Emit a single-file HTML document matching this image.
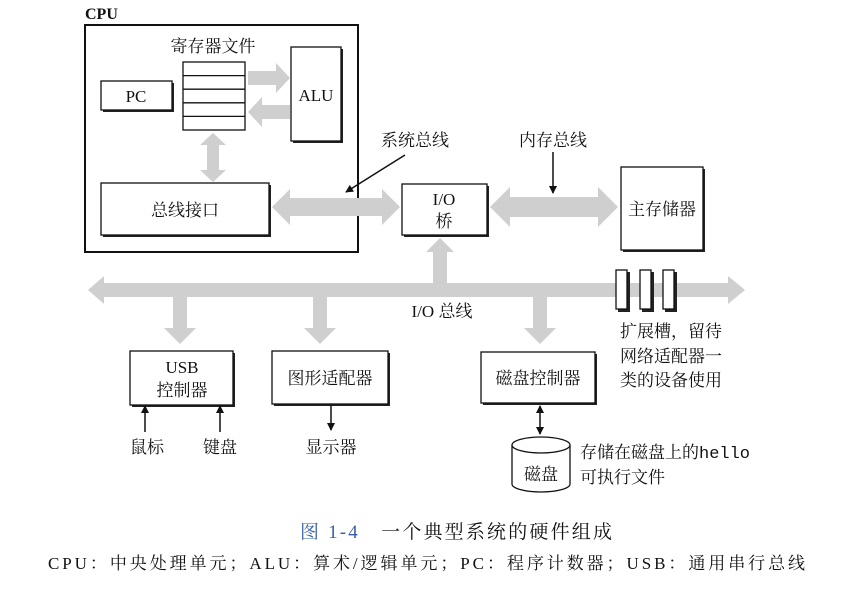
<!DOCTYPE html>
<html><head><meta charset="utf-8"><style>
html,body{margin:0;padding:0;background:#fff}
svg text{font-family:"Liberation Serif","Noto Serif CJK SC","Noto Sans CJK SC",serif;fill:#111}
</style></head><body>
<svg width="850" height="589" viewBox="0 0 850 589" xmlns="http://www.w3.org/2000/svg">
<defs>
<marker id="ah" markerWidth="8" markerHeight="8" refX="7" refY="4" orient="auto" markerUnits="userSpaceOnUse"><path d="M0,0 L8,4 L0,8 z" fill="#111"/></marker>
<marker id="ahs" markerWidth="8" markerHeight="8" refX="1" refY="4" orient="auto" markerUnits="userSpaceOnUse"><path d="M8,0 L0,4 L8,8 z" fill="#111"/></marker>
</defs>
<rect x="85" y="25" width="273" height="227" stroke="#111" stroke-width="2" fill="none"/>
<g fill="#cfcfcf">
<path d="M248,71 L276,71 L276,63 L290,78 L276,93 L276,85 L248,85 z"/>
<path d="M290,105 L262,105 L262,97 L248,112 L262,127 L262,119 L290,119 z"/>
<path d="M213,133 L226,145 L219,145 L219,170 L226,170 L213,182 L200,170 L207,170 L207,145 L200,145 z"/>
<path d="M272,207 L290,189 L290,198 L382,198 L382,189 L400,207 L382,225 L382,216 L290,216 L290,225 z"/>
<path d="M490,207 L510,187 L510,197 L598,197 L598,187 L618,207 L598,227 L598,217 L510,217 L510,227 z"/>
<path d="M88,290 L104,276 L104,283 L728,283 L728,276 L745,290 L728,304 L728,297 L104,297 L104,304 z"/>
<path d="M440,238 L454,252 L447,252 L447,284 L433,284 L433,252 L426,252 z"/>
<path d="M173,296 L187,296 L187,328 L196,328 L180,344 L164,328 L173,328 z"/>
<path d="M313,296 L327,296 L327,328 L336,328 L320,344 L304,328 L313,328 z"/>
<path d="M533,296 L547,296 L547,328 L556,328 L540,344 L524,328 L533,328 z"/>
</g>
<g stroke="#111" fill="#fff" stroke-width="1.3">
<rect x="103" y="83" width="71" height="29" fill="#222" stroke="none"/>
<rect x="101" y="81" width="71" height="29"/>
<rect x="183" y="62" width="62" height="68"/>
<line x1="183" y1="75.6" x2="245" y2="75.6"/><line x1="183" y1="89.2" x2="245" y2="89.2"/><line x1="183" y1="102.8" x2="245" y2="102.8"/><line x1="183" y1="116.4" x2="245" y2="116.4"/>
<rect x="293" y="49" width="50" height="94" fill="#222" stroke="none"/>
<rect x="291" y="47" width="50" height="94"/>
<rect x="103" y="185" width="168" height="52" fill="#222" stroke="none"/>
<rect x="101" y="183" width="168" height="52"/>
<rect x="404" y="186" width="85" height="51" fill="#222" stroke="none"/>
<rect x="402" y="184" width="85" height="51"/>
<rect x="623" y="169" width="82" height="83" fill="#222" stroke="none"/>
<rect x="621" y="167" width="82" height="83"/>
<rect x="618" y="272" width="12" height="40" fill="#222" stroke="none"/><rect x="616" y="270" width="11" height="39"/>
<rect x="642" y="272" width="12" height="40" fill="#222" stroke="none"/><rect x="640" y="270" width="11" height="39"/>
<rect x="665" y="272" width="12" height="40" fill="#222" stroke="none"/><rect x="663" y="270" width="11" height="39"/>
<rect x="132" y="353" width="103" height="54" fill="#222" stroke="none"/>
<rect x="130" y="351" width="103" height="54"/>
<rect x="274" y="353" width="116" height="53" fill="#222" stroke="none"/>
<rect x="272" y="351" width="116" height="53"/>
<rect x="483" y="354" width="114" height="51" fill="#222" stroke="none"/>
<rect x="481" y="352" width="114" height="51"/>
<path d="M512,445 L512,484 A29,8 0 0 0 570,484 L570,445" />
<ellipse cx="541" cy="445" rx="29" ry="8"/>
</g>
<g stroke="#111" stroke-width="1.5" fill="none">
<line x1="405" y1="155" x2="346" y2="192" marker-end="url(#ah)"/>
<line x1="553" y1="152" x2="553" y2="193" marker-end="url(#ah)"/>
<line x1="145" y1="432" x2="145" y2="406" marker-end="url(#ah)"/>
<line x1="220" y1="432" x2="220" y2="406" marker-end="url(#ah)"/>
<line x1="331" y1="405" x2="331" y2="430" marker-end="url(#ah)"/>
<line x1="540" y1="406" x2="540" y2="434" marker-end="url(#ah)" marker-start="url(#ahs)"/>
</g>
<g font-size="17">
<text x="85" y="19" font-size="16" font-weight="bold">CPU</text>
<text x="213" y="52" text-anchor="middle">寄存器文件</text>
<text x="136" y="102" text-anchor="middle">PC</text>
<text x="316" y="101" text-anchor="middle">ALU</text>
<text x="185" y="216" text-anchor="middle">总线接口</text>
<text x="415" y="146" text-anchor="middle">系统总线</text>
<text x="553" y="146" text-anchor="middle">内存总线</text>
<text x="444" y="205" text-anchor="middle">I/O</text>
<text x="444" y="227" text-anchor="middle">桥</text>
<text x="662" y="215" text-anchor="middle">主存储器</text>
<text x="442" y="317" text-anchor="middle">I/O 总线</text>
<text x="620" y="337">扩展槽，留待</text>
<text x="620" y="362">网络适配器一</text>
<text x="620" y="386">类的设备使用</text>
<text x="182" y="373" text-anchor="middle">USB</text>
<text x="182" y="396" text-anchor="middle">控制器</text>
<text x="330" y="384" text-anchor="middle">图形适配器</text>
<text x="538" y="384" text-anchor="middle">磁盘控制器</text>
<text x="147" y="453" text-anchor="middle">鼠标</text>
<text x="220" y="453" text-anchor="middle">键盘</text>
<text x="331" y="453" text-anchor="middle">显示器</text>
<text x="541" y="480" text-anchor="middle">磁盘</text>
<text x="580" y="458">存储在磁盘上的<tspan font-family="Liberation Mono,monospace">hello</tspan></text>
<text x="580" y="483">可执行文件</text>
<text x="300" y="538" font-size="19" textLength="312" lengthAdjust="spacing"><tspan fill="#3a5fa8">图 1-4</tspan>　一个典型系统的硬件组成</text>
<text x="48" y="569" font-size="17" textLength="757" lengthAdjust="spacing">CPU：中央处理单元；ALU：算术/逻辑单元；PC：程序计数器；USB：通用串行总线</text>
</g>
</svg>
</body></html>
